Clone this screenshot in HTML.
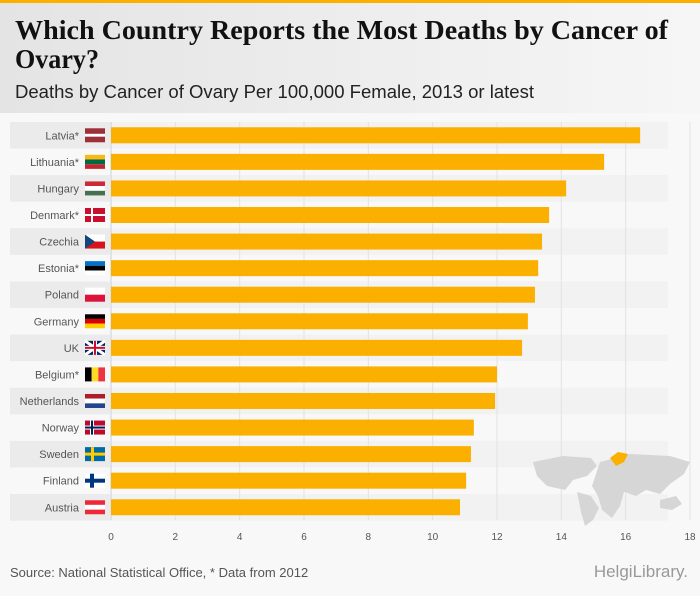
<!DOCTYPE html>
<html><head><meta charset="utf-8"><style>
body{margin:0;width:700px;height:596px;background:#f8f8f8;font-family:"Liberation Sans",sans-serif;overflow:hidden}
svg{display:block}
</style></head><body>
<svg id="c" width="700" height="596" xmlns="http://www.w3.org/2000/svg">
<defs><linearGradient id="hg" x1="0" x2="1"><stop offset="0" stop-color="#e4e4e4"/><stop offset="1" stop-color="#f6f6f6"/></linearGradient></defs>
<rect x="0" y="0" width="700" height="3" fill="#fbb000"/>
<rect x="0" y="3" width="700" height="110" fill="url(#hg)"/>
<text x="15" y="39" font-family="Liberation Serif,serif" font-weight="bold" font-size="27" fill="#111" textLength="653" lengthAdjust="spacingAndGlyphs">Which Country Reports the Most Deaths by Cancer of</text>
<text x="15" y="68" font-family="Liberation Serif,serif" font-weight="bold" font-size="27" fill="#111" textLength="84" lengthAdjust="spacingAndGlyphs">Ovary?</text>
<text x="15" y="98" font-size="18" fill="#222" textLength="519" lengthAdjust="spacingAndGlyphs">Deaths by Cancer of Ovary Per 100,000 Female, 2013 or latest</text>
<g id="plot"></g>
<g fill="#d6d6d6">
<path d="M533 462 l30-6 l28 2 l6 8 l-10 10 l-14 4 l-8 10 l-18 -4 l-10-10 z"/>
<path d="M577 492 l14 4 l8 12 l-6 12 l-8 6 l-4-14 z"/>
<path d="M600 462 l30-8 l40 2 l20 6 l-6 12 l-14 10 l-10 10 l-14-4 l-10 6 l-12-4 l-4 14 l-8 12 l-10-8 l-4-14 l-6-10 z"/>
<path d="M660 500 l16-4 l6 8 l-10 6 l-12-2 z"/>
<path d="M610 458 l8-6 l10 2 l-4 8 l-8 4 z" fill="#fbb000"/>
</g>
<text x="10" y="577" font-size="13" fill="#555">Source: National Statistical Office, * Data from 2012</text>
<text x="688" y="577" text-anchor="end" font-size="17" fill="#999">HelgiLibrary.</text>
</svg>
<script>
const countries=["Latvia*","Lithuania*","Hungary","Denmark*","Czechia","Estonia*","Poland","Germany","UK","Belgium*","Netherlands","Norway","Sweden","Finland","Austria"];
const values=[16.45,15.33,14.15,13.62,13.4,13.28,13.18,12.96,12.78,12.0,11.94,11.28,11.19,11.04,10.85];
const ticks=[0,2,4,6,8,10,12,14,16,18];
const flags={"Latvia*":[["#9e3039",0,.4],["#fff",.4,.2],["#9e3039",.6,.4]],"Lithuania*":[["#fdb913",0,.33],["#006a44",.33,.34],["#c1272d",.67,.33]],"Hungary":[["#ce2939",0,.33],["#fff",.33,.34],["#477050",.67,.33]],"Denmark*":[["#c8102e",0,1]],"Czechia":[["#fff",0,.5],["#d7141a",.5,.5]],"Estonia*":[["#0072ce",0,.33],["#000",.33,.34],["#fff",.67,.33]],"Poland":[["#fff",0,.5],["#dc143c",.5,.5]],"Germany":[["#000",0,.33],["#dd0000",.33,.34],["#ffce00",.67,.33]],"UK":[["#012169",0,1]],"Belgium*":[],"Netherlands":[["#ae1c28",0,.33],["#fff",.33,.34],["#21468b",.67,.33]],"Norway":[["#ba0c2f",0,1]],"Sweden":[["#006aa7",0,1]],"Finland":[["#fff",0,1]],"Austria":[["#ed2939",0,.33],["#fff",.33,.34],["#ed2939",.67,.33]]};
const NS="http://www.w3.org/2000/svg";
const g=document.getElementById("plot");
const x0=111,x1=690,xmax=18;
const xs=v=>x0+(v/xmax)*(x1-x0);
const rowTop=122,rowH=26.57;
const yr=i=>rowTop+i*rowH;
function mk(t,a,p){const e=document.createElementNS(NS,t);for(const k in a)e.setAttribute(k,a[k]);(p||g).appendChild(e);return e;}
countries.forEach((c,i)=>{
 const y=yr(i);
 if(i%2===0){const b=mk("rect",{x:10,y:y,width:100,height:rowH,fill:"#ebebeb"});
 
 
 const p=mk("rect",{x:111,y:y,width:557,height:rowH,fill:"#f2f2f2"});
 
 }
});
ticks.forEach(t=>{
 const l=mk("line",{x1:xs(t),x2:xs(t),y1:rowTop,y2:yr(countries.length),stroke:t===0?"#c8cfe0":"#e2e2e2","stroke-width":1});
 
 
 const tx=mk("text",{x:xs(t),y:540,"text-anchor":"middle","font-size":10,fill:"#555"});tx.textContent=t;
 
 
});
countries.forEach((c,i)=>{
 const y=yr(i),cy=y+rowH/2;
 const lb=mk("text",{x:79,y:cy+4,"text-anchor":"end","font-size":11,fill:"#555"});lb.textContent=c;
 
 
 const fg=mk("g",{});
 
 
 const fx=85,fy=cy-7,fw=20,fh=14;
 (flags[c]||[]).forEach(s=>mk("rect",{x:fx,y:fy+s[1]*fh,width:fw,height:s[2]*fh,fill:s[0]},fg));
 if(c==="Belgium*"){["#000","#fdda24","#ef3340"].forEach((col,k)=>mk("rect",{x:fx+k*fw/3,y:fy,width:fw/3,height:fh,fill:col},fg));}
 if(c==="Denmark*"){mk("rect",{x:fx+6,y:fy,width:2,height:fh,fill:"#fff"},fg);mk("rect",{x:fx,y:fy+6,width:fw,height:2,fill:"#fff"},fg);}
 if(c==="Norway"){mk("rect",{x:fx+5,y:fy,width:4,height:fh,fill:"#fff"},fg);mk("rect",{x:fx,y:fy+5,width:fw,height:4,fill:"#fff"},fg);mk("rect",{x:fx+6,y:fy,width:2,height:fh,fill:"#00205b"},fg);mk("rect",{x:fx,y:fy+6,width:fw,height:2,fill:"#00205b"},fg);}
 if(c==="Sweden"){mk("rect",{x:fx+6,y:fy,width:3,height:fh,fill:"#fecc00"},fg);mk("rect",{x:fx,y:fy+5.5,width:fw,height:3,fill:"#fecc00"},fg);}
 if(c==="Finland"){mk("rect",{x:fx+5,y:fy,width:4,height:fh,fill:"#003580"},fg);mk("rect",{x:fx,y:fy+5,width:fw,height:4,fill:"#003580"},fg);}
 if(c==="Czechia"){mk("polygon",{points:`${fx},${fy} ${fx+10},${fy+7} ${fx},${fy+14}`,fill:"#11457e"},fg);}
 if(c==="UK"){mk("path",{d:`M${fx} ${fy}L${fx+fw} ${fy+fh}M${fx+fw} ${fy}L${fx} ${fy+fh}`,stroke:"#fff","stroke-width":3},fg);mk("rect",{x:fx+8,y:fy,width:4,height:fh,fill:"#fff"},fg);mk("rect",{x:fx,y:fy+5,width:fw,height:4,fill:"#fff"},fg);mk("rect",{x:fx+9,y:fy,width:2,height:fh,fill:"#c8102e"},fg);mk("rect",{x:fx,y:fy+6,width:fw,height:2,fill:"#c8102e"},fg);}
 const b=mk("rect",{x:x0,y:cy-8,width:xs(values[i])-x0,height:16,fill:"#fbb000"});
 
 
});
</script>
</body></html>
